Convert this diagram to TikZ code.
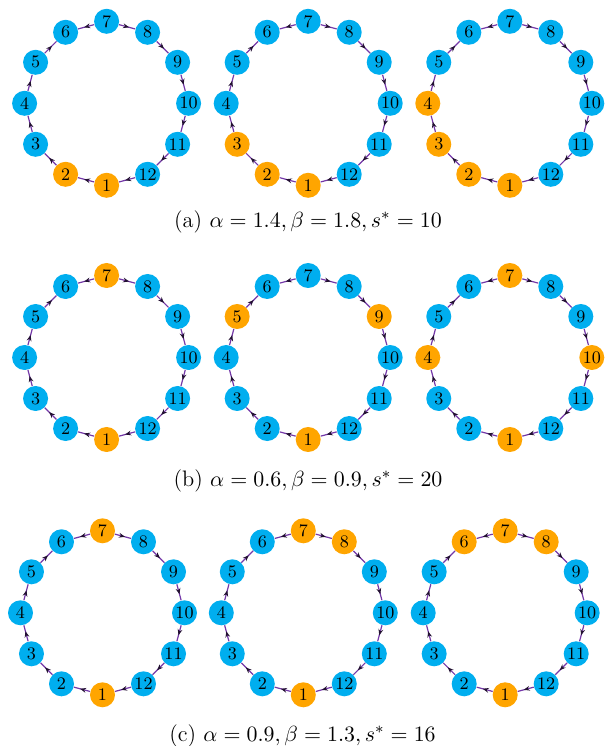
\documentclass[tikz,border=0pt]{standalone}
\usepackage{amsmath}
\usepackage{xcolor}
\usetikzlibrary{arrows.meta, decorations.markings}

\definecolor{nodeblue}{HTML}{00AEEF}
\definecolor{nodeorange}{HTML}{FFA500}
\definecolor{linkpurple}{HTML}{7438A8}

\begin{document}
\begin{tikzpicture}[
        x=0.5pt, y=0.5pt,
        vert/.style={circle, inner sep=0pt, minimum size=12.5pt, font=\fontsize{8.8}{10}\selectfont},
        link/.style={draw=linkpurple, line width=0.6pt, postaction={decorate},
            decoration={markings, mark=at position 0.62 with {\arrow[black!70!linkpurple]{Stealth[length=3pt, width=2.4pt]}}}},
        caption/.style={anchor=base, font=\fontsize{11.2}{13}\selectfont},
    ]
        \useasboundingbox (0,0) rectangle (605,746);

        % Rings: name / centre / orange nodes
        \foreach \id/\cx/\cy/\hot in {a1/106.6/642.7/{1,2}, a2/308.2/642.7/{1,2,3}, a3/509.8/642.7/{1,2,3,4},
                                      b1/106.6/388.5/{1,7}, b2/308.2/388.5/{1,5,9}, b3/509.8/388.5/{1,4,7,10},
                                      c1/102.5/133.2/{1,7}, c2/303.3/133.2/{1,7,8}, c3/505.2/133.2/{1,6,7,8}}{
            \begin{scope}[shift={(\cx,\cy)}]
                \foreach \k in {1,...,12}{
                    \xdef\fillc{nodeblue}
                    \foreach \h in \hot {\ifnum\h=\k \xdef\fillc{nodeorange}\fi}
                    \node[vert, fill=\fillc] (\id-\k) at ({-60-30*\k}:82) {\k};
                }
            \end{scope}
            % Arrows
            \foreach \s/\t in {1/2, 2/3, 3/4, 4/5, 5/6, 7/6, 7/8, 8/9, 9/10, 10/11, 11/12, 12/1}
                \draw[link] (\id-\s) -- (\id-\t);
        }

        % Captions
        \node[caption] (capa) at (308,518.7) {(a) $\alpha=1.4,\beta=1.8,s^*=10$};
        \node[caption] (capb) at (308,259.3) {(b) $\alpha=0.6,\beta=0.9,s^*=20$};
        \node[caption] (capc) at (302.5,4.3) {(c) $\alpha=0.9,\beta=1.3,s^*=16$};

    \end{tikzpicture}
\end{document}
